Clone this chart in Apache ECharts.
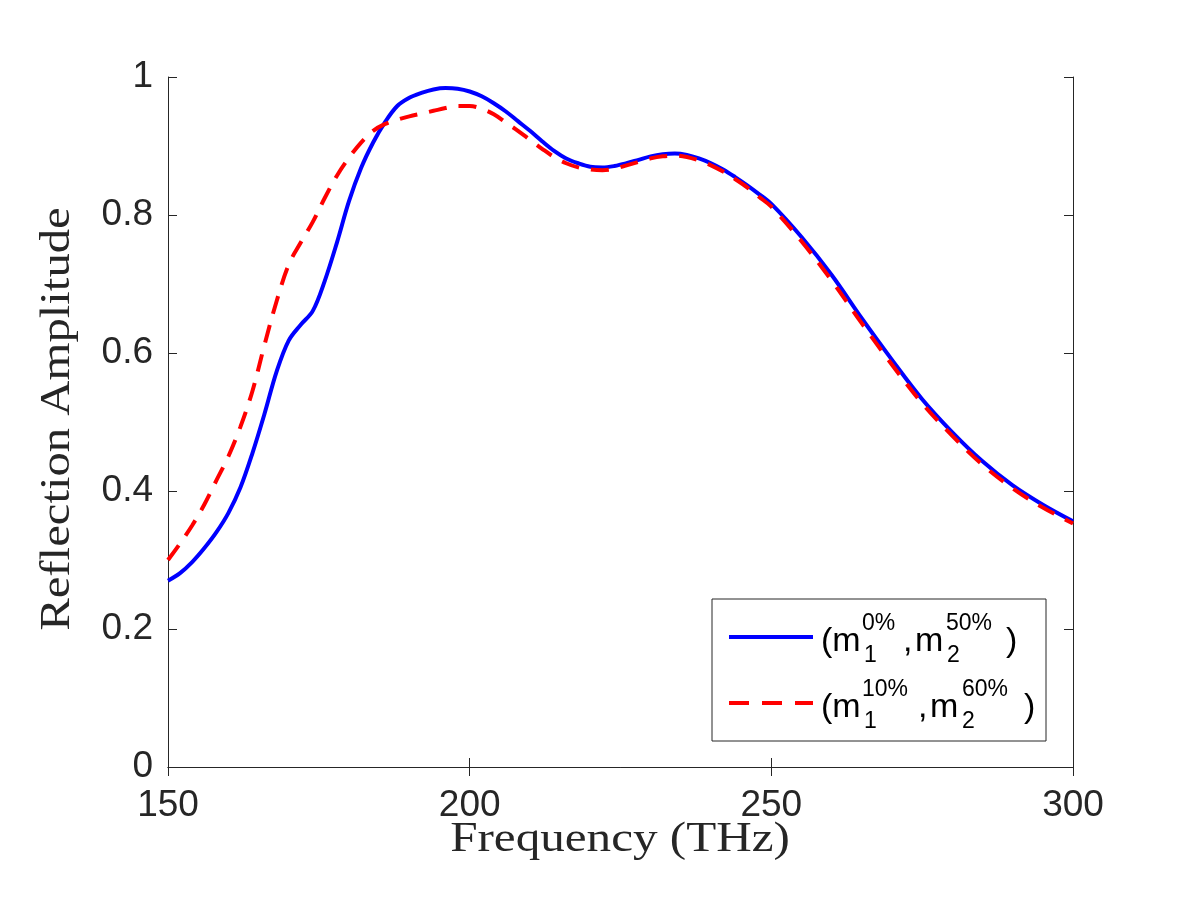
<!DOCTYPE html>
<html>
<head>
<meta charset="utf-8">
<script src="https://cdn.jsdelivr.net/npm/echarts@6/dist/echarts.min.js"></script>
<style>html,body{margin:0;padding:0;background:#fff;}#c{width:1200px;height:900px;}</style>
</head>
<body>
<div id="c"></div>
<script>
var frequency = [150,152,154,156,158,160,162,164,166,168,170,172,174,176,178,180,182,184,186,188,190,192,194,196,198,200,202,204,206,208,210,212,214,216,218,220,222,224,226,228,230,232,234,236,238,240,242,244,246,248,250,255,260,265,270,275,280,285,290,295,300];
var reflectionA = [0.270,0.281,0.297,0.317,0.340,0.368,0.405,0.455,0.512,0.573,0.618,0.641,0.661,0.705,0.760,0.820,0.868,0.905,0.935,0.958,0.970,0.977,0.982,0.984,0.983,0.979,0.972,0.962,0.950,0.936,0.922,0.907,0.893,0.882,0.875,0.870,0.869,0.871,0.875,0.880,0.885,0.888,0.889,0.887,0.882,0.875,0.866,0.855,0.843,0.830,0.816,0.768,0.713,0.650,0.590,0.533,0.485,0.443,0.408,0.380,0.356];
var reflectionB = [0.300,0.324,0.350,0.380,0.415,0.450,0.493,0.545,0.612,0.675,0.728,0.760,0.790,0.825,0.857,0.883,0.905,0.922,0.932,0.938,0.943,0.947,0.951,0.955,0.958,0.958,0.954,0.946,0.934,0.922,0.909,0.896,0.884,0.875,0.869,0.866,0.865,0.867,0.872,0.877,0.882,0.885,0.886,0.884,0.879,0.872,0.863,0.852,0.840,0.826,0.812,0.762,0.705,0.643,0.583,0.527,0.480,0.438,0.404,0.376,0.353];
var xTicks = [150, 200, 250, 300];
var yTicks = [0, 0.2, 0.4, 0.6, 0.8, 1];

function pairs(xs, ys) { return xs.map(function (x, i) { return [x, ys[i]]; }); }

var axisColor = '#262626';
var sans = '"Liberation Sans", Arial, sans-serif';
var serif = '"Liberation Serif", "Times New Roman", serif';

var chart = echarts.init(document.getElementById('c'));
var baseX = {
  type: 'value', min: xTicks[0], max: xTicks[xTicks.length - 1], interval: 50,
  axisLine: { show: true, lineStyle: { color: axisColor, width: 1 } },
  axisTick: { show: true, inside: true, length: 9, lineStyle: { color: axisColor } },
  splitLine: { show: false }
};
var baseY = {
  type: 'value', min: yTicks[0], max: yTicks[yTicks.length - 1], interval: 0.2,
  axisLine: { show: true, lineStyle: { color: axisColor, width: 1 } },
  axisTick: { show: true, inside: true, length: 9, lineStyle: { color: axisColor } },
  splitLine: { show: false }
};
var legX = 712, legY = 599, legW = 334, legH = 142;
function t(text, x, y, size) {
  return { type: 'text', x: x, y: y, z: 101, style: { text: text, font: size + 'px ' + sans, fill: '#000', verticalAlign: 'middle', align: 'left' } };
}
chart.setOption({
  animation: false,
  backgroundColor: '#fff',
  grid: { left: 168, right: 127, top: 77, bottom: 133 },
  xAxis: [
    Object.assign({}, baseX, { position: 'bottom',
      axisLabel: { show: true, margin: 20, color: axisColor, fontSize: 37, fontFamily: sans } }),
    Object.assign({}, baseX, { position: 'top', axisLabel: { show: false } })
  ],
  yAxis: [
    Object.assign({}, baseY, { position: 'left',
      axisLabel: { show: true, margin: 15, color: axisColor, fontSize: 37, fontFamily: sans } }),
    Object.assign({}, baseY, { position: 'right', axisLabel: { show: false } })
  ],
  series: [
    { type: 'line', name: 'A', data: pairs(frequency, reflectionA), smooth: 0.35, symbol: 'none',
      lineStyle: { color: '#0000FF', width: 4 }, z: 3 },
    { type: 'line', name: 'B', data: pairs(frequency, reflectionB), smooth: 0.35, symbol: 'none',
      lineStyle: { color: '#FF0000', width: 4, type: [18, 12] }, z: 4 }
  ],
  graphic: [
    { type: 'text', x: 620, y: 861, scaleX: 1.17, style: { text: 'Frequency (THz)', font: '42px ' + serif, fill: '#262626', align: 'center', verticalAlign: 'bottom' } },
    { type: 'text', x: 79, y: 419, rotation: Math.PI / 2, scaleX: 1.16, style: { text: 'Reflection Amplitude', font: '42px ' + serif, fill: '#262626', align: 'center', verticalAlign: 'bottom' } },
    { type: 'rect', z: 100, shape: { x: legX, y: legY, width: legW, height: legH }, style: { fill: '#fff', stroke: axisColor, lineWidth: 1 } },
    { type: 'line', z: 101, shape: { x1: 729, y1: 637, x2: 813, y2: 637 }, style: { stroke: '#0000FF', lineWidth: 4 } },
    { type: 'line', z: 101, shape: { x1: 729, y1: 703, x2: 813, y2: 703 }, style: { stroke: '#FF0000', lineWidth: 4, lineDash: [20, 13] } },
    t('(m', 821, 642, 34), t('0%', 862, 624, 23), t('1', 864, 656, 23), t(',', 903, 642, 34),
    t('m', 915, 642, 34), t('50%', 946, 624, 23), t('2', 947, 656, 23), t(')', 1006, 642, 34),
    t('(m', 821, 708, 34), t('10%', 862, 690, 23), t('1', 864, 722, 23), t(',', 918, 708, 34),
    t('m', 930, 708, 34), t('60%', 962, 690, 23), t('2', 962, 722, 23), t(')', 1024, 708, 34)
  ]
});
</script>
</body>
</html>
